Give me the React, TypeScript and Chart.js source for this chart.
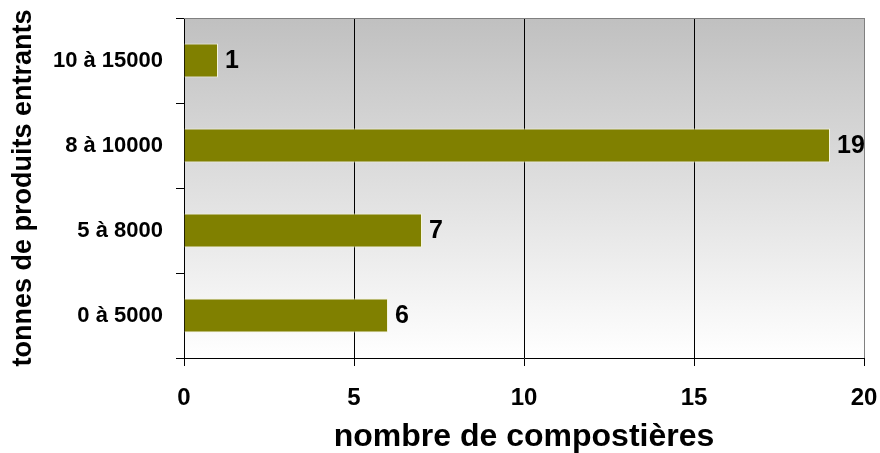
import React, { useEffect, useRef } from 'react';
import { Chart, registerables } from 'chart.js';

Chart.register(...registerables);

const categories = ['10 à 15000', '8 à 10000', '5 à 8000', '0 à 5000'];
const values = [1, 19, 7, 6];
const xMin = 0;
const xMax = 20;
const xStep = 5;
const xTitle = 'nombre de compostières';
const yTitle = 'tonnes de produits entrants';

const FONT = '"Liberation Sans", Arial, sans-serif';

const backgroundPlugin = {
  id: 'bgGradient',
  beforeDraw(chart: any) {
    const { ctx, chartArea } = chart;
    if (!chartArea) return;
    const { left, top, right, bottom } = chartArea;
    const g = ctx.createLinearGradient(0, top, 0, bottom);
    g.addColorStop(0, '#c0c0c0');
    g.addColorStop(1, '#ffffff');
    ctx.save();
    ctx.fillStyle = g;
    ctx.fillRect(left, top, right - left, bottom - top);
    ctx.restore();
  },
  afterDatasetsDraw(chart: any) {
    const { ctx, chartArea } = chart;
    const { left, top, right } = chartArea;
    ctx.save();
    ctx.strokeStyle = '#808080';
    ctx.lineWidth = 1;
    ctx.beginPath();
    ctx.moveTo(left, Math.round(top) + 0.5);
    ctx.lineTo(right, Math.round(top) + 0.5);
    ctx.stroke();
    ctx.restore();
  },
};

const valueLabelPlugin = {
  id: 'valueLabels',
  afterDatasetsDraw(chart: any) {
    const { ctx } = chart;
    const meta = chart.getDatasetMeta(0);
    ctx.save();
    ctx.fillStyle = '#000';
    ctx.font = `bold 25px ${FONT}`;
    ctx.textAlign = 'left';
    ctx.textBaseline = 'middle';
    meta.data.forEach((el: any, i: number) => {
      const v = chart.data.datasets[0].data[i];
      ctx.fillText(String(v), el.x + 7, el.y + 1);
    });
    ctx.restore();
  },
};

const zeroPad = (s: any) => {
  s.paddingLeft = 0;
  s.paddingRight = 0;
  s.paddingTop = 0;
  s.paddingBottom = 0;
};

export default function App() {
  const ref = useRef<HTMLCanvasElement | null>(null);

  useEffect(() => {
    if (!ref.current) return;
    const chart = new Chart(ref.current, {
      type: 'bar',
      data: {
        labels: categories,
        datasets: [
          {
            data: values,
            backgroundColor: '#808000',
            borderColor: '#f4f4dc',
            borderWidth: 1,
            borderSkipped: 'start',
            categoryPercentage: 1,
            barPercentage: 0.4,
          },
        ],
      },
      options: {
        indexAxis: 'y',
        animation: false,
        responsive: true,
        maintainAspectRatio: false,
        layout: { padding: { top: 18, right: 16, left: 0, bottom: 0 } },
        plugins: {
          legend: { display: false },
          tooltip: { enabled: false },
        },
        scales: {
          x: {
            type: 'linear',
            min: xMin,
            max: xMax,
            ticks: {
              stepSize: xStep,
              color: '#000',
              padding: 18,
              font: { family: FONT, size: 24, weight: 'bold' },
            },
            grid: {
              color: (c: any) => (c.tick && c.tick.value === xMax ? '#808080' : '#000000'),
              tickColor: '#000',
              tickLength: 8,
              lineWidth: 1,
            },
            border: { color: '#000', width: 1 },
            title: {
              display: true,
              text: xTitle,
              color: '#000',
              padding: { top: 0, bottom: 0 },
              font: { family: FONT, size: 32, weight: 'bold', lineHeight: 1 },
            },
            afterFit: (s: any) => {
              s.height = 95;
              zeroPad(s);
            },
          },
          y: {
            type: 'category',
            offset: true,
            ticks: {
              color: '#000',
              padding: 13,
              font: { family: FONT, size: 22, weight: 'bold' },
            },
            grid: {
              offset: true,
              drawOnChartArea: false,
              color: '#000',
              tickColor: '#000',
              tickLength: 8,
            },
            border: { color: '#000', width: 1 },
            title: {
              display: true,
              text: yTitle,
              color: '#000',
              padding: { top: 7, bottom: 0 },
              font: { family: FONT, size: 27, weight: 'bold' },
            },
            afterFit: (s: any) => {
              s.width = 184;
              zeroPad(s);
            },
          },
        },
      },
      plugins: [backgroundPlugin, valueLabelPlugin],
    });
    return () => chart.destroy();
  }, []);

  return (
    <div style={{ position: 'fixed', left: 0, top: 0, width: 880, height: 453 }}>
      <canvas ref={ref} />
    </div>
  );
}
